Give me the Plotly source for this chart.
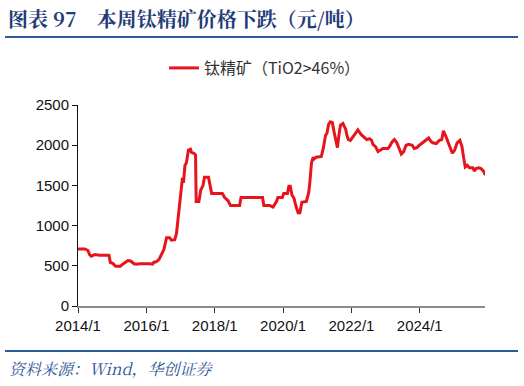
import plotly.graph_objects as go

dates = [
    "2014-01-01", "2014-03-15", "2014-04-17", "2014-05-05", "2014-05-23", "2014-06-28",
    "2014-08-18", "2014-10-30", "2014-11-28", "2014-12-13", "2015-01-08", "2015-02-06",
    "2015-03-29", "2015-05-05", "2015-06-18", "2015-07-17", "2015-08-23", "2015-09-17",
    "2015-10-20", "2016-02-06", "2016-03-07", "2016-03-22", "2016-04-16", "2016-05-16",
    "2016-06-10", "2016-07-06", "2016-08-04", "2016-09-06", "2016-09-24", "2016-10-31",
    "2016-11-18", "2016-12-14", "2017-01-08", "2017-01-19", "2017-02-03", "2017-02-17",
    "2017-03-04", "2017-03-26", "2017-04-17", "2017-04-28", "2017-05-23", "2017-06-10",
    "2017-06-17", "2017-07-16", "2017-08-04", "2017-08-29", "2017-09-13", "2017-10-27",
    "2017-11-29", "2018-03-24", "2018-04-17", "2018-05-23", "2018-06-18", "2018-09-24",
    "2018-10-09", "2019-05-27", "2019-06-10", "2019-08-11", "2019-09-16", "2019-10-23",
    "2019-11-07", "2019-12-24", "2020-01-08", "2020-02-17", "2020-03-03", "2020-03-18",
    "2020-04-05", "2020-04-27", "2020-05-16", "2020-06-10", "2020-06-29", "2020-07-20",
    "2020-09-06", "2020-10-01", "2020-10-12", "2020-10-31", "2020-11-18", "2020-11-29",
    "2020-12-20", "2021-02-13", "2021-03-04", "2021-03-15", "2021-03-30", "2021-04-14",
    "2021-05-02", "2021-05-20", "2021-06-11", "2021-07-02", "2021-07-17", "2021-08-04",
    "2021-08-23", "2021-09-06", "2021-10-02", "2021-10-31", "2021-11-14", "2021-11-29",
    "2021-12-21", "2022-01-15", "2022-02-10", "2022-03-11", "2022-04-16", "2022-05-30",
    "2022-06-14", "2022-07-13", "2022-08-04", "2022-08-19", "2022-09-17", "2022-10-12",
    "2022-11-07", "2022-12-02", "2023-01-26", "2023-02-10", "2023-03-11", "2023-04-05",
    "2023-05-01", "2023-05-23", "2023-06-18", "2023-07-13", "2023-08-08", "2023-09-06",
    "2023-10-12", "2023-11-03", "2023-12-02", "2023-12-28", "2024-02-03", "2024-03-07",
    "2024-04-05", "2024-04-27", "2024-05-19", "2024-06-25", "2024-07-28", "2024-08-23",
    "2024-09-10", "2024-10-02", "2024-10-27", "2024-11-22", "2024-12-14", "2025-01-08",
    "2025-02-03", "2025-03-04", "2025-03-26", "2025-04-13", "2025-05-01", "2025-05-23",
    "2025-06-14", "2025-07-20", "2025-08-08", "2025-08-23", "2025-09-21", "2025-10-16",
    "2025-11-10", "2025-12-02",
]
prices = [
    710, 710, 690, 640, 620, 640,
    630, 635, 630, 540, 530, 495,
    495, 530, 565, 560, 525, 520,
    525, 525, 520, 545, 550, 580,
    630, 700, 850, 850, 820, 825,
    900, 1200, 1500, 1570, 1560, 1750,
    1780, 1940, 1950, 1910, 1900, 1880,
    1300, 1300, 1440, 1500, 1600, 1600,
    1400, 1400, 1350, 1310, 1250, 1250,
    1350, 1350, 1250, 1250, 1230, 1300,
    1350, 1350, 1400, 1400, 1490, 1490,
    1380, 1340, 1250, 1160, 1160, 1290,
    1300, 1410, 1520, 1780, 1850, 1830,
    1850, 1860, 1950, 2050, 2120, 2150,
    2260, 2290, 2280, 2150, 2080, 1970,
    2150, 2250, 2270, 2200, 2120, 2070,
    2060, 2100, 2140, 2190, 2130, 2080,
    2070, 2080, 2060, 2010, 1980, 1920,
    1940, 1960, 1960, 1980, 2040, 2070,
    2030, 1960, 1890, 1920, 2000, 2010,
    2000, 1960, 1970, 2000, 2030, 2060,
    2090, 2050, 2030, 2020, 2060, 2070,
    2180, 2120, 2040, 1960, 1900, 1940,
    2030, 2060, 1990, 1850, 1730, 1750,
    1720, 1720, 1680, 1710, 1720, 1710,
    1680, 1630,
]
series_name = "钛精矿（TiO2>46%）"
x_tick_vals = ["2014-01-01", "2016-01-01", "2018-01-01", "2020-01-01", "2022-01-01", "2024-01-01"]
x_tick_text = ["2014/1", "2016/1", "2018/1", "2020/1", "2022/1", "2024/1"]
y_tick_vals = [0, 500, 1000, 1500, 2000, 2500]

title_text = "图表&nbsp;97&nbsp;&nbsp;&nbsp;&nbsp;本周钛精矿价格下跌（元/吨）"
source_text = "资料来源：Wind，华创证券"

W, H = 524, 386
L, R, T, B = 78, 39, 105, 80
pw = W - L - R
ph = H - T - B

def px(x):
    return (x - L) / pw

def py(y):
    return (H - B - y) / ph

fig = go.Figure()
fig.add_trace(go.Scatter(
    x=dates, y=prices, mode="lines", name=series_name,
    line=dict(color="#E8141C", width=3),
))

fig.update_layout(
    width=W, height=H,
    margin=dict(l=L, r=R, t=T, b=B, autoexpand=False),
    paper_bgcolor="white", plot_bgcolor="white",
    showlegend=True,
    legend=dict(
        orientation="h", x=px(164), xanchor="left", y=py(68), yanchor="middle",
        font=dict(family="Noto Sans CJK SC, Liberation Sans", size=16, color="#333333"),
        bgcolor="rgba(0,0,0,0)",
    ),
    xaxis=dict(
        type="date", range=["2014-01-01", "2025-11-28"],
        tickvals=x_tick_vals, ticktext=x_tick_text,
        showgrid=False, zeroline=False,
        showline=True, linecolor="#8c8c8c", linewidth=1.5,
        ticks="outside", ticklen=5, tickcolor="#333333", tickwidth=1,
        tickfont=dict(family="Liberation Sans, Arial", size=15, color="#111111"),
    ),
    yaxis=dict(
        range=[0, 2500], tickvals=y_tick_vals,
        showgrid=False, zeroline=False,
        showline=True, linecolor="#111111", linewidth=1,
        ticks="outside", ticklen=5, tickcolor="#111111",
        tickfont=dict(family="Liberation Sans, Arial", size=15, color="#111111"),
    ),
)

fig.add_annotation(
    xref="paper", yref="paper", x=px(6), y=py(18), xanchor="left", yanchor="middle",
    text="<b>" + title_text + "</b>", showarrow=False,
    font=dict(family="Noto Serif CJK SC, Noto Sans CJK SC", size=20, color="#1F3C78"),
)
fig.add_annotation(
    xref="paper", yref="paper", x=px(7), y=py(368), xanchor="left", yanchor="middle",
    text="<i>" + source_text + "</i>", showarrow=False,
    font=dict(family="Noto Serif CJK SC, Noto Sans CJK SC", size=16, color="#2F5597"),
)
for yy in (37, 351):
    fig.add_shape(
        type="line", xref="paper", yref="paper",
        x0=px(5), x1=px(518), y0=py(yy), y1=py(yy),
        line=dict(color="#2E5A9C", width=2),
    )

fig.write_html(
    "out.html",
    config={"displayModeBar": False},
    post_script="document.body.style.margin='0';document.body.style.padding='0';",
)
